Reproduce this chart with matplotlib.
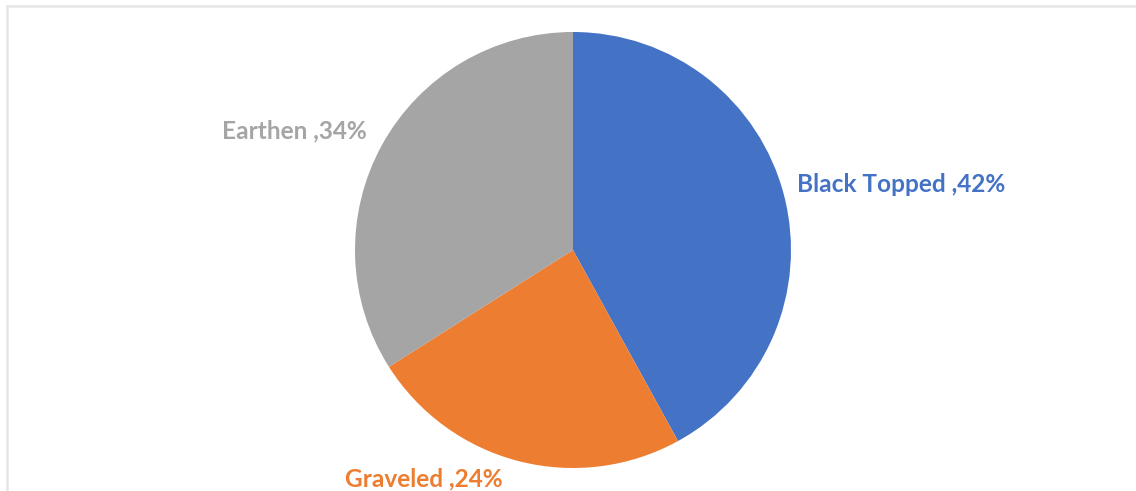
import matplotlib
matplotlib.use("Agg")
import matplotlib.pyplot as plt
from matplotlib.lines import Line2D

categories = ["Black Topped", "Graveled", "Earthen"]
values = [42, 24, 34]
colors = ["#4472C4", "#ED7D31", "#A5A5A5"]

W, H = 1136, 491
fig = plt.figure(figsize=(W / 100, H / 100), dpi=100)
ax = fig.add_axes([0, 0, 1, 1])

ax.pie(values, colors=colors, startangle=90, counterclock=False,
       center=(573, H - 250), radius=218, frame=True,
       wedgeprops=dict(linewidth=0))
ax.set_xlim(0, W)
ax.set_ylim(0, H)
ax.set_aspect("equal")
ax.axis("off")

# chart border
ax.add_line(Line2D([7, 7], [0, H - 6], color="#e6e6e6", lw=1.8))
ax.add_line(Line2D([7, W], [H - 6, H - 6], color="#e6e6e6", lw=1.8))

font = dict(family=["Lato", "DejaVu Sans"], fontsize=17.6, fontweight="bold")
label_pos = {
    "Black Topped": (797, H - 184, "left"),
    "Graveled": (345, H - 479, "left"),
    "Earthen": (367, H - 131, "right"),
}
for cat, val, col in zip(categories, values, colors):
    x, y, ha = label_pos[cat]
    ax.text(x, y, f"{cat} ,{val}%", color=col, ha=ha, va="center", **font)

fig.savefig("out.png", dpi=100)
